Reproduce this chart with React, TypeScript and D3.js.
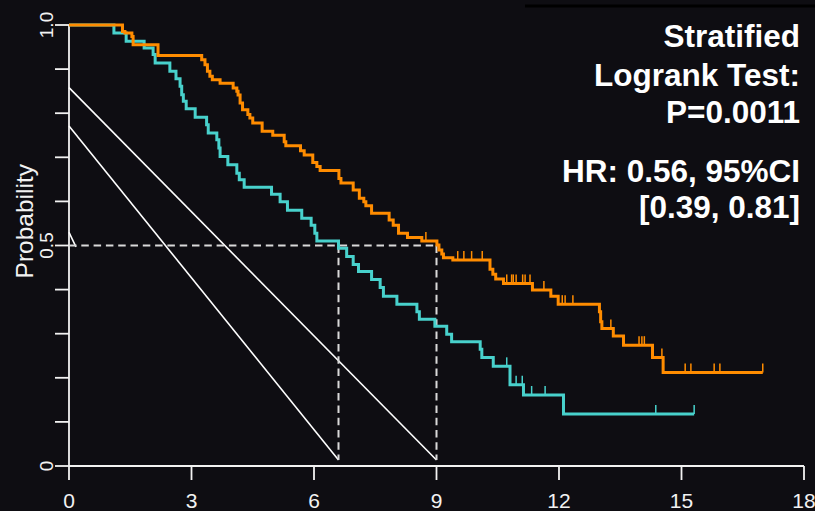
import React from "react";
import * as d3 from "d3";

// ---- data ----
const orangeSteps: [number, number][] = [
  [0, 1], [1.31, 0.985], [1.37, 0.982], [1.54, 0.974], [1.57, 0.955], [2.18, 0.931],
  [3.25, 0.921], [3.33, 0.91], [3.39, 0.895], [3.45, 0.884], [3.51, 0.876], [3.7, 0.868],
  [4.02, 0.857], [4.11, 0.85], [4.14, 0.841], [4.19, 0.823], [4.25, 0.808], [4.38, 0.797],
  [4.43, 0.789], [4.5, 0.778], [4.73, 0.759], [4.99, 0.75], [5.27, 0.735], [5.31, 0.726],
  [5.67, 0.715], [5.76, 0.705], [5.97, 0.688], [6.07, 0.679], [6.15, 0.67], [6.61, 0.652],
  [6.66, 0.642], [6.96, 0.626], [7.11, 0.607], [7.22, 0.599], [7.27, 0.59], [7.41, 0.573],
  [7.84, 0.558], [7.94, 0.546], [8.07, 0.528], [8.29, 0.518], [8.64, 0.51], [9.01, 0.501],
  [9.06, 0.49], [9.13, 0.481], [9.17, 0.472], [9.4, 0.467], [10.31, 0.446], [10.38, 0.435],
  [10.45, 0.424], [10.64, 0.414], [11.35, 0.399], [11.8, 0.385], [11.98, 0.367],
  [12.99, 0.35], [13.02, 0.327], [13.05, 0.312], [13.33, 0.295], [13.58, 0.274],
  [14.29, 0.246], [14.55, 0.212], [16.99, 0.212],
];
const orangeCensors = [
  8.74, 9.52, 9.67, 9.86, 10.12, 10.72, 10.84, 10.88, 10.95, 11.11, 11.17, 11.29, 11.63,
  12.08, 12.15, 12.34, 13.27, 13.96, 14.03, 14.09, 14.52, 15.09, 15.23, 15.8, 15.94, 16.99,
];
const tealSteps: [number, number][] = [
  [0, 1], [1.1, 0.982], [1.4, 0.963], [1.84, 0.948], [2.06, 0.933], [2.11, 0.914],
  [2.47, 0.895], [2.62, 0.878], [2.72, 0.861], [2.76, 0.842], [2.8, 0.827], [2.87, 0.81],
  [3.09, 0.791], [3.37, 0.774], [3.41, 0.755], [3.62, 0.74], [3.67, 0.721], [3.7, 0.702],
  [3.89, 0.683], [4.11, 0.664], [4.17, 0.649], [4.29, 0.632], [4.96, 0.616], [5.17, 0.599],
  [5.35, 0.58], [5.7, 0.562], [5.93, 0.546], [6.02, 0.528], [6.07, 0.51], [6.6, 0.494],
  [6.8, 0.475], [6.96, 0.457], [7.09, 0.441], [7.41, 0.423], [7.62, 0.405], [7.7, 0.385],
  [8.03, 0.367], [8.52, 0.35], [8.58, 0.333], [8.96, 0.317], [9.25, 0.299], [9.37, 0.282],
  [10.07, 0.265], [10.11, 0.246], [10.39, 0.226], [10.8, 0.184], [11.13, 0.161],
  [12.11, 0.118], [15.31, 0.118],
];
const tealCensors = [10.72, 10.95, 11.1, 11.33, 11.66, 14.37, 15.31];

const medians = [6.6, 9.0];
const medianLevel = 0.5;
const diagonalLines: [number, number, number, number][] = [
  [0, 0.858, 9.0, 0.0136],
  [0, 0.771, 6.6, 0.0136],
  [0, 0.53, 0.17, 0.497],
];
const xTicks = [0, 3, 6, 9, 12, 15, 18];
const yTicks = [0, 0.1, 0.2, 0.3, 0.4, 0.5, 0.6, 0.7, 0.8, 0.9, 1.0];
const yLabels = [
  { v: 0, t: "0" },
  { v: 0.5, t: "0.5" },
  { v: 1.0, t: "1.0" },
];
const annotation = ["Stratified", "Logrank Test:", "P=0.0011", "HR: 0.56, 95%CI", "[0.39, 0.81]"];

const W = 815;
const H = 511;
const BG = "#0e0d12";
const ORANGE = "#ff8c00";
const TEAL = "#48d1cc";
const AXIS = "#f2f2f2";
const FONT = "'Liberation Sans', Arial, Helvetica, sans-serif";

export default function App() {
  const x = d3.scaleLinear().domain([0, 18]).range([69, 804]);
  const y = d3.scaleLinear().domain([0, 1]).range([466, 25]);
  const line = d3
    .line<[number, number]>()
    .x((d) => x(d[0]))
    .y((d) => y(d[1]))
    .curve(d3.curveStepAfter);

  const survAt = (steps: [number, number][], t: number) => {
    let s = steps[0][1];
    for (const [tt, ss] of steps) if (tt <= t) s = ss;
    return s;
  };

  const dash = "7.5,4.8";
  const annBaselines = [47, 86, 123, 182, 218];

  return (
    <svg
      width={W}
      height={H}
      style={{ position: "absolute", left: 0, top: 0, display: "block" }}
    >
      <rect x={0} y={0} width={W} height={H} fill={BG} />
      <line x1={525} x2={W} y1={6} y2={6} stroke="#000" strokeWidth={3} />

      {/* axes */}
      <line x1={x(0)} x2={x(18)} y1={y(0)} y2={y(0)} stroke={AXIS} strokeWidth={1.8} />
      {xTicks.map((t) => (
        <g key={"xt" + t}>
          <line x1={x(t)} x2={x(t)} y1={y(0)} y2={y(0) + 14} stroke={AXIS} strokeWidth={1.8} />
          <text
            x={x(t)}
            y={508}
            fill={AXIS}
            fontSize={21}
            fontFamily={FONT}
            textAnchor="middle"
          >
            {t}
          </text>
        </g>
      ))}
      <line x1={x(0)} x2={x(0)} y1={y(0)} y2={y(1)} stroke={AXIS} strokeWidth={1.8} />
      {yTicks.map((v) => (
        <line key={"yt" + v} x1={x(0) - 14} x2={x(0)} y1={y(v)} y2={y(v)} stroke={AXIS} strokeWidth={1.8} />
      ))}
      {yLabels.map((l) => (
        <text
          key={"yl" + l.v}
          transform={`translate(53,${y(l.v)}) rotate(-90)`}
          fill={AXIS}
          fontSize={19}
          fontFamily={FONT}
          textAnchor="middle"
        >
          {l.t}
        </text>
      ))}
      <text
        transform={`translate(33,${y(0.555)}) rotate(-90)`}
        fill={AXIS}
        fontSize={24.5}
        fontFamily={FONT}
        textAnchor="middle"
      >
        Probability
      </text>

      {/* reference lines */}
      {diagonalLines.map((d, i) => (
        <line
          key={"dg" + i}
          x1={x(d[0])}
          y1={y(d[1])}
          x2={x(d[2])}
          y2={y(d[3])}
          stroke="#ffffff"
          strokeWidth={1.6}
        />
      ))}
      <line
        x1={x(0)}
        x2={x(d3.max(medians) as number)}
        y1={y(medianLevel)}
        y2={y(medianLevel)}
        stroke="#d9d9d9"
        strokeWidth={2}
        strokeDasharray={dash}
      />
      {medians.map((m) => (
        <line
          key={"md" + m}
          x1={x(m)}
          x2={x(m)}
          y1={y(medianLevel)}
          y2={y(0.0136)}
          stroke="#d9d9d9"
          strokeWidth={2}
          strokeDasharray={dash}
        />
      ))}

      {/* curves */}
      <path d={line(tealSteps) || ""} fill="none" stroke={TEAL} strokeWidth={3} />
      {tealCensors.map((t, i) => (
        <line
          key={"tc" + i}
          x1={x(t)}
          x2={x(t)}
          y1={y(survAt(tealSteps, t))}
          y2={y(survAt(tealSteps, t)) - 9}
          stroke={TEAL}
          strokeWidth={1.5}
        />
      ))}
      <path d={line(orangeSteps) || ""} fill="none" stroke={ORANGE} strokeWidth={3} />
      {orangeCensors.map((t, i) => (
        <line
          key={"oc" + i}
          x1={x(t)}
          x2={x(t)}
          y1={y(survAt(orangeSteps, t))}
          y2={y(survAt(orangeSteps, t)) - 9}
          stroke={ORANGE}
          strokeWidth={1.5}
        />
      ))}

      {/* annotation */}
      {annotation.map((s, i) => (
        <text
          key={"an" + i}
          x={800}
          y={annBaselines[i]}
          fill="#ffffff"
          fontSize={31.5}
          fontWeight="bold"
          fontFamily={FONT}
          textAnchor="end"
        >
          {s}
        </text>
      ))}
    </svg>
  );
}
